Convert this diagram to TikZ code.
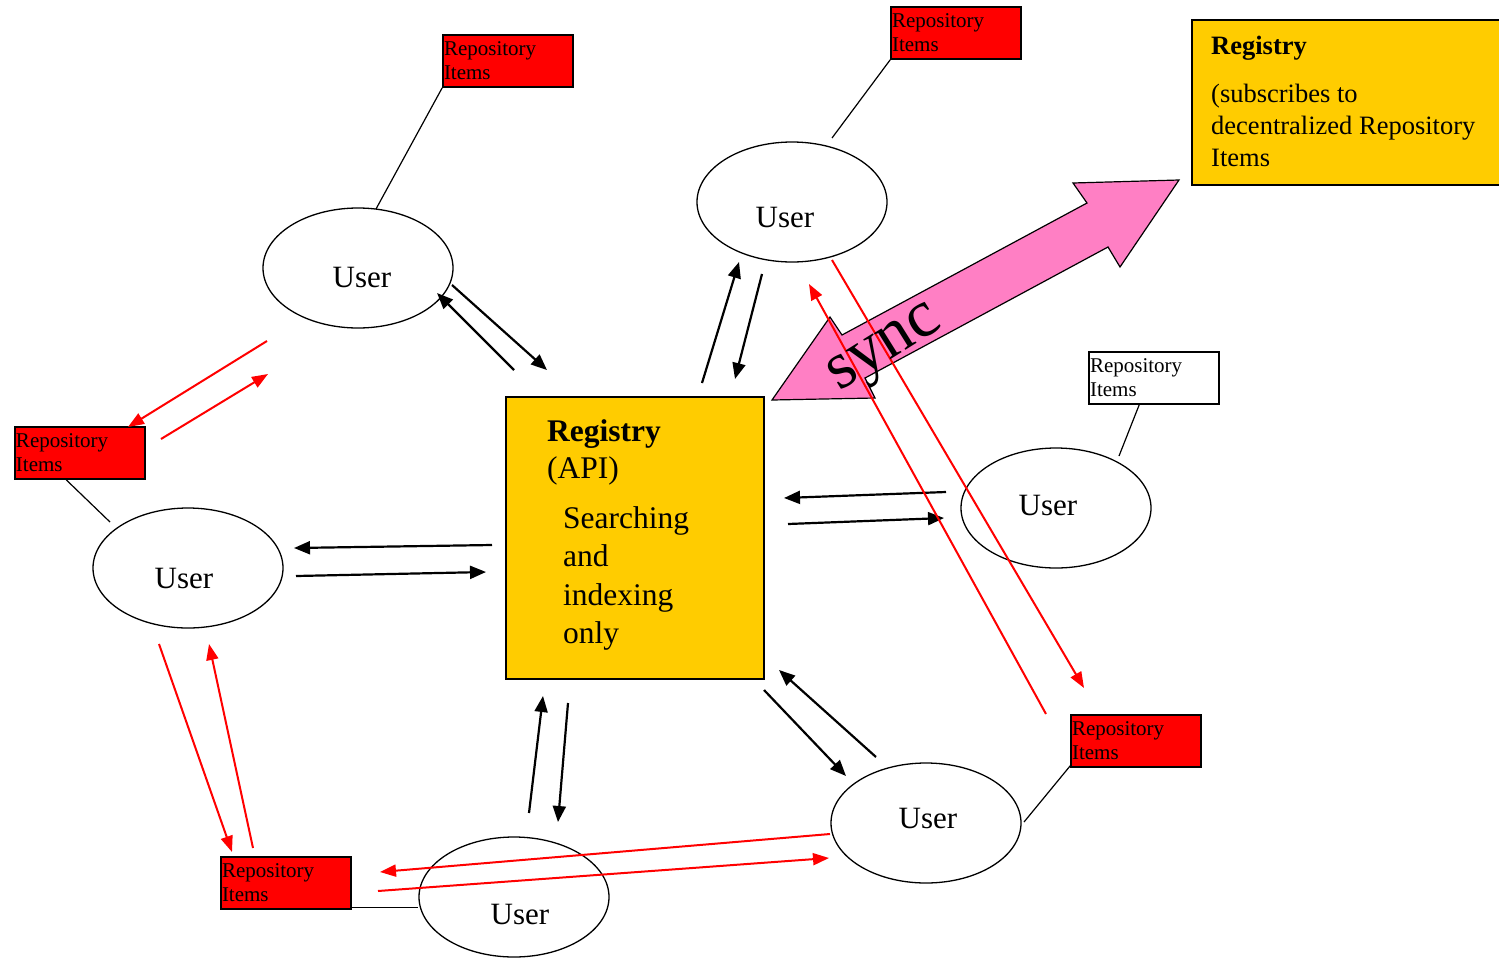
\documentclass[tikz,border=0pt]{standalone}
\usepackage{fontspec}
\setmainfont{Liberation Serif}
\usetikzlibrary{shapes.geometric,arrows.meta,calc}
\definecolor{regyellow}{HTML}{FFCC00}
\definecolor{syncpink}{HTML}{FF7FC4}
\definecolor{repred}{HTML}{FF0000}

\begin{document}
\begin{tikzpicture}[x=1pt,y=-1pt,
  user/.style={draw,ellipse,line width=1.3pt,minimum width=190pt,minimum height=120pt,inner sep=0pt},
  usertext/.style={font=\fontsize{31}{36}\selectfont,inner sep=0pt},
  repo/.style={draw,line width=1.6pt,fill=repred,minimum width=130pt,minimum height=52pt,
    text width=128pt,inner xsep=1pt,inner ysep=0pt,align=left,font=\fontsize{21}{24}\selectfont},
  repowhite/.style={repo,fill=white},
  regbox/.style={draw,line width=1.8pt,fill=regyellow,inner sep=0pt,anchor=north west},
  regline/.style={anchor=base west,inner sep=0pt,font=\fontsize{31.5}{38}\selectfont},
  subline/.style={anchor=base west,inner sep=0pt,font=\fontsize{26.5}{32}\selectfont},
  link/.style={line width=1.2pt},
  blk/.style={line width=2.2pt,-{Triangle[length=16pt,width=13pt]}},
  redarr/.style={draw=red,line width=2pt,-{Triangle[length=16pt,width=12pt]}},
]
\useasboundingbox (0,0) rectangle (1499,959);

% users
\node[user] (u1) at (358,268) {};
\node[user] (u2) at (792,202) {};
\node[user] (u3) at (1056,508) {};
\node[user] (u4) at (188,568) {};
\node[user] (u5) at (514,897) {};
\node[user] (u6) at (926,823) {};
\node[usertext] (u1t) at (362,277) {User};
\node[usertext] (u2t) at (785,217) {User};
\node[usertext] (u3t) at (1048,505) {User};
\node[usertext] (u4t) at (184,578) {User};
\node[usertext] (u5t) at (520,914) {User};
\node[usertext] (u6t) at (928,818) {User};

% repository item boxes
\node[repo] (r1) at (508,61) {Repository\\Items};
\node[repo] (r2) at (956,33) {Repository\\Items};
\node[repowhite] (r3) at (1154,378) {Repository\\Items};
\node[repo] (r4) at (80,453) {Repository\\Items};
\node[repo] (r5) at (286,883) {Repository\\Items};
\node[repo] (r6) at (1136,741) {Repository\\Items};

% links from each user to its repository items
\draw[link] (r1.south west) -- (376,209);
\draw[link] (r2.south west) -- (832,138);
\draw[link] ($(r3.south west)+(51,0)$) -- (1119,456);
\draw[link] ($(r4.south west)+(52,0)$) -- (110,522);
\draw[link] ($(r5.south east)+(0,-2)$) coordinate (r5l) -- (r5l -| u5.west);
\draw[link] ($(r6.south west)+(0,-2)$) -- (1024,822);

% central registry
\node[regbox,minimum width=258pt,minimum height=282pt] (reg) at (505,396) {};
\node[regline,font=\fontsize{31.5}{38}\selectfont\bfseries] (regA) at ($(reg.north west)+(42,45)$) {Registry};
\node[regline] (regB) at ($(reg.north west)+(42,82)$) {(API)};
\node[regline] (regC) at ($(reg.north west)+(58,132)$) {Searching};
\node[regline] (regD) at ($(reg.north west)+(58,170)$) {and};
\node[regline] (regE) at ($(reg.north west)+(58,209)$) {indexing};
\node[regline] (regF) at ($(reg.north west)+(58,247)$) {only};

% subscribing registry
\node[regbox,minimum width=314pt,minimum height=165pt] (sub) at (1191,19) {};
\node[subline,font=\fontsize{26.5}{32}\selectfont\bfseries] (subA) at ($(sub.north west)+(20,35)$) {Registry};
\node[subline] (subB) at ($(sub.north west)+(20,83)$) {(subscribes to};
\node[subline] (subC) at ($(sub.north west)+(20,115)$) {decentralized Repository};
\node[subline] (subD) at ($(sub.north west)+(20,147)$) {Items};

% sync arrow
\draw[line width=1.2pt,fill=syncpink,line join=miter]
  (772,400) -- (830,317) -- (842,335) -- (1087,203) -- (1073,183) -- (1179,180)
  -- (1120,267) -- (1108,247) -- (865,378) -- (875,398) -- cycle;

% black request arrows between users and the central registry
\coordinate (a1s) at (514,370); \coordinate (a1e) at (437,293);
\coordinate (a2s) at (452,285); \coordinate (a2e) at (547,370);
\coordinate (b1s) at (702,383); \coordinate (b1e) at (739,262);
\coordinate (b2s) at (762,274); \coordinate (b2e) at (735,379);
\coordinate (c1s) at (946,492); \coordinate (c1e) at (784,498);
\coordinate (c2s) at (788,524); \coordinate (c2e) at (944,518);
\coordinate (d1s) at (492,545); \coordinate (d1e) at (294,548);
\coordinate (d2s) at (296,576); \coordinate (d2e) at (486,572);
\coordinate (e1s) at (529,813); \coordinate (e1e) at (543,696);
\coordinate (e2s) at (568,703); \coordinate (e2e) at (558,822);
\coordinate (f1s) at (876,757); \coordinate (f1e) at (779,670);
\coordinate (f2s) at (764,690); \coordinate (f2e) at (846,776);
\foreach \p in {a1,a2,b1,b2,c1,c2,d1,d2,e1,e2,f1,f2}
  \draw[blk] (\p s) -- (\p e);

% red exchanges of repository items
\coordinate (g1s) at (267,341); \coordinate (g1e) at (128,427);
\coordinate (g2s) at (161,439); \coordinate (g2e) at (268,374);
\coordinate (h1s) at (159,644); \coordinate (h1e) at (232,852);
\coordinate (h2s) at (253,848); \coordinate (h2e) at (209,644);
\coordinate (k1s) at (830,834); \coordinate (k1e) at (380,872);
\coordinate (k2s) at (378,891); \coordinate (k2e) at (829,858);
\coordinate (m1s) at (832,260); \coordinate (m1e) at (1084,688);
\coordinate (m2s) at (1046,714); \coordinate (m2e) at (809,284);
\foreach \p in {g1,g2,h1,h2,k1,k2,m1,m2}
  \draw[redarr] (\p s) -- (\p e);

\node[rotate=32,inner sep=0pt,font=\fontsize{67}{72}\selectfont] (synct) at (887,352) {sync};
\end{tikzpicture}
\end{document}
